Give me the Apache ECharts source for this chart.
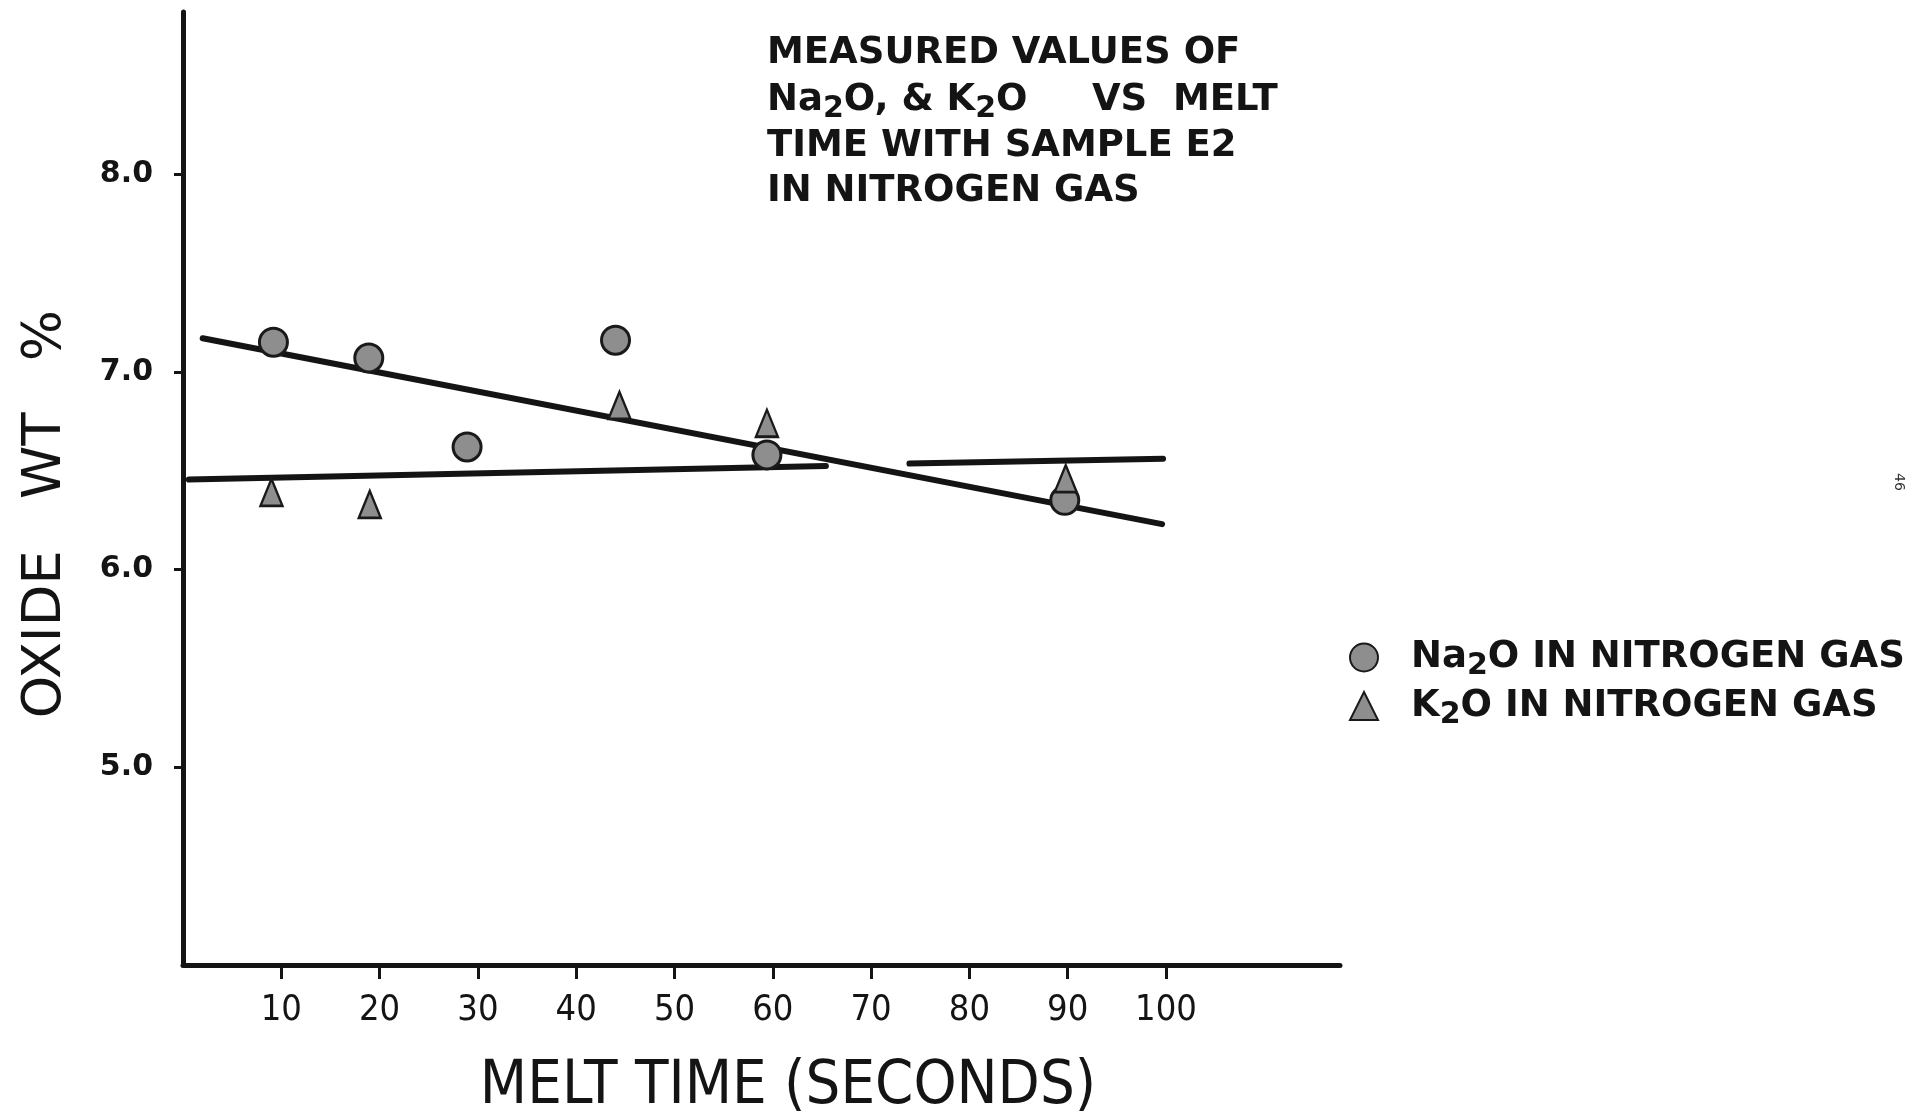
<!DOCTYPE html>
<html>
<head>
<meta charset="utf-8">
<script src="https://cdn.jsdelivr.net/npm/echarts@6/dist/echarts.min.js"></script>
<style>
html,body{margin:0;padding:0;background:#fff;}
#chart{width:1915px;height:1113px;}
</style>
</head>
<body>
<div id="chart"></div>
<script>
// ---- data ----
const xTickValues = [10, 20, 30, 40, 50, 60, 70, 80, 90, 100];
const yTickValues = [5, 6, 7, 8];

const na2oTime = [9.2, 18.9, 28.9, 44.0, 59.4, 89.7];
const na2oWt   = [7.15, 7.07, 6.62, 7.16, 6.58, 6.35];

const k2oTime = [9.0, 19.0, 44.4, 59.4, 89.8];
const k2oWt   = [6.39, 6.33, 6.83, 6.74, 6.46];

const na2oFitTime = [2.0, 99.6];
const na2oFitWt   = [7.17, 6.23];
const k2oFit1Time = [0.6, 65.4];
const k2oFit1Wt   = [6.455, 6.524];
const k2oFit2Time = [73.9, 99.7];
const k2oFit2Wt   = [6.536, 6.56];

const titleLines = [
  [['t', 'MEASURED VALUES OF']],
  [['t', 'Na'], ['s', '2'], ['t', 'O, & K'], ['s', '2'], ['t', 'O     VS  MELT']],
  [['t', 'TIME WITH SAMPLE E2']],
  [['t', 'IN NITROGEN GAS']]
];

const zip = (a, b) => a.map((v, i) => [v, b[i]]);
const richStr = parts => parts.map(p => '{' + p[0] + '|' + p[1] + '}').join('');

const chart = echarts.init(document.getElementById('chart'), null, {renderer: 'canvas'});

const ink = '#141414';
const condensed = "'DejaVu Sans Condensed', 'DejaVu Sans', 'Liberation Sans', sans-serif";
const fitLine = (name, t, w) => ({
  name: name, type: 'line', data: zip(t, w), symbol: 'none', silent: true,
  lineStyle: {color: ink, width: 6, cap: 'round'}, z: 2
});

const option = {
  backgroundColor: '#ffffff',
  animation: false,
  grid: {left: 183, right: 575, top: 12, bottom: 148, containLabel: false},
  xAxis: {
    type: 'value', min: 0, max: 117.7,
    axisLine: {show: true, lineStyle: {color: ink, width: 5}},
    axisTick: {show: true, customValues: xTickValues, length: 14, lineStyle: {color: ink, width: 3}},
    axisLabel: {show: true, customValues: xTickValues, margin: 28,
      fontFamily: condensed, fontSize: 36, color: ink},
    splitLine: {show: false}
  },
  yAxis: {
    type: 'value', min: 4, max: 8.82,
    axisLine: {show: true, lineStyle: {color: ink, width: 5}},
    axisTick: {show: true, customValues: yTickValues, length: 9, lineStyle: {color: ink, width: 3}},
    axisLabel: {show: true, customValues: yTickValues, margin: 30,
      formatter: v => v.toFixed(1),
      fontFamily: 'DejaVu Sans', fontWeight: 'bold', fontSize: 30, color: ink},
    splitLine: {show: false}
  },
  legend: {
    data: ['Na2O', 'K2O'],
    orient: 'vertical', left: 1344, top: 634,
    itemWidth: 28, itemHeight: 28, itemGap: 6,
    formatter: name => name === 'Na2O'
      ? '{t|Na}{s|2}{t|O IN NITROGEN GAS}'
      : '{t|K}{s|2}{t|O IN NITROGEN GAS}',
    textStyle: {
      color: ink, padding: [0, 0, 0, 28],
      rich: {
        t: {fontFamily: 'DejaVu Sans', fontWeight: 'bold', fontSize: 37, color: ink, lineHeight: 52},
        s: {fontFamily: 'DejaVu Sans', fontWeight: 'bold', fontSize: 30, color: ink, padding: [18, 0, 0, 0]}
      }
    }
  },
  graphic: [
    {
      type: 'text', left: 767, top: 35,
      style: {
        text: titleLines.map(richStr).join('\n'),
        fill: ink,
        rich: {
          t: {fontFamily: 'DejaVu Sans', fontWeight: 'bold', fontSize: 37, fill: ink, lineHeight: 45},
          s: {fontFamily: 'DejaVu Sans', fontWeight: 'bold', fontSize: 30, fill: ink, padding: [18, 0, 0, 0]}
        }
      }
    },
    {
      type: 'text', x: 46, y: 514, rotation: Math.PI / 2,
      style: {text: 'OXIDE   WT   %', fontFamily: 'DejaVu Sans', fontSize: 54,
        fill: ink, align: 'center', verticalAlign: 'middle'}
    },
    {
      type: 'text', x: 788, y: 1087,
      style: {text: 'MELT TIME (SECONDS)', fontFamily: condensed, fontSize: 61,
        fill: ink, align: 'center', verticalAlign: 'middle'}
    },
    {
      type: 'text', x: 1899, y: 482, rotation: -Math.PI / 2,
      style: {text: '46', fontFamily: 'DejaVu Sans', fontSize: 14,
        fill: '#333', align: 'center', verticalAlign: 'middle'}
    }
  ],
  series: [
    fitLine('fitNa', na2oFitTime, na2oFitWt),
    fitLine('fitK1', k2oFit1Time, k2oFit1Wt),
    fitLine('fitK2', k2oFit2Time, k2oFit2Wt),
    {
      name: 'Na2O', type: 'scatter', data: zip(na2oTime, na2oWt),
      symbol: 'circle', symbolSize: 28, z: 5,
      itemStyle: {color: '#8e8e8e', borderColor: '#1a1a1a', borderWidth: 3, opacity: 1}
    },
    {
      name: 'K2O', type: 'scatter', data: zip(k2oTime, k2oWt),
      symbol: 'triangle', symbolSize: [22, 27], z: 5,
      itemStyle: {color: '#8e8e8e', borderColor: '#1a1a1a', borderWidth: 2.5, opacity: 1}
    }
  ]
};
chart.setOption(option);
</script>
</body>
</html>
